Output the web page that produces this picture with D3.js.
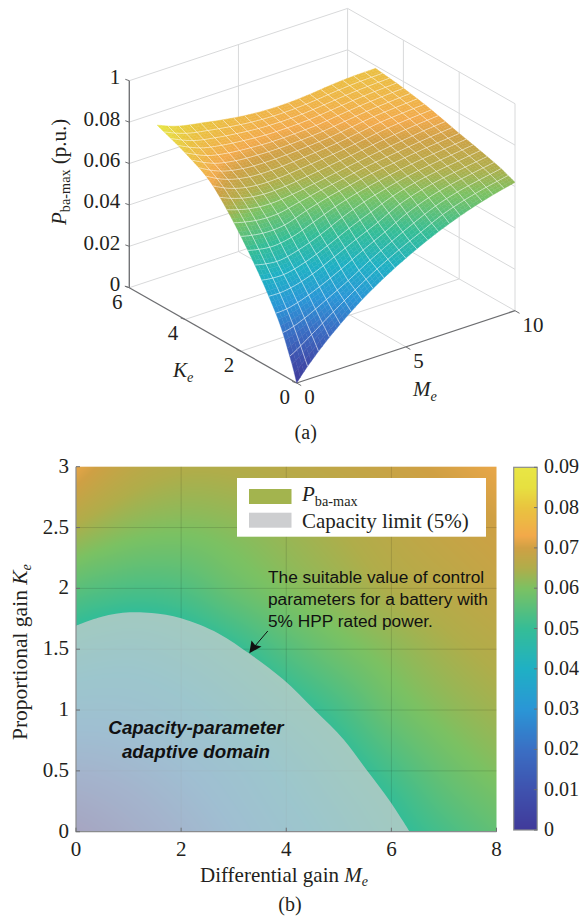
<!DOCTYPE html>
<html><head><meta charset="utf-8">
<script src="https://cdn.jsdelivr.net/npm/d3@7/dist/d3.min.js"></script>
<style>html,body{margin:0;padding:0;background:#fff}svg{display:block}
text{font-family:"Liberation Serif",serif;fill:#231f20}</style></head>
<body><svg id="c" width="581" height="917"></svg>
<script>
// ---- data ----
const meGrid=[0,.25,.5,1,2,3,4,5,6,7,8,9,10];
const keGrid=[0,.125,.25,.5,1,1.5,2,2.5,3,4,5];
const pKe0   =[0,.0033,.0063,.0118,.0215,.0298,.0368,.0428,.0481,.0526,.0564,.0595,.062];
const pKe0125=[.006,.008,.0103,.015,.0235,.0312,.038,.0438,.0491,.0538,.0575,.0604,.0627];
const pKe025 =[.011,.0125,.0143,.018,.0255,.0326,.0392,.0449,.05,.055,.0585,.0612,.0634];
const pKe05  =[.0205,.021,.0218,.024,.0295,.0352,.0415,.0472,.0525,.0572,.0605,.0628,.0648];
const pKe1   =[.0342,.0341,.0341,.0348,.038,.0428,.0478,.0525,.0578,.0612,.0635,.0652,.0668];
const pKe15  =[.0455,.0448,.0443,.0437,.0458,.0497,.0545,.0585,.0615,.064,.0658,.0672,.0686];
const pKe2   =[.0555,.0548,.0543,.0535,.054,.0575,.0605,.0628,.065,.0665,.068,.0692,.0703];
const pKe25  =[.0645,.0636,.0628,.0615,.0605,.0615,.0632,.065,.0668,.0684,.0698,.0712,.0722];
const pKe3   =[.0722,.0708,.0695,.0675,.0655,.0655,.0665,.0677,.069,.0706,.0722,.0732,.074];
const pKe4   =[.0805,.0792,.0779,.0757,.0735,.0725,.072,.0722,.0728,.074,.0752,.0761,.0768];
const pKe5   =[.0862,.0851,.084,.0823,.0802,.0783,.0768,.076,.076,.0767,.0778,.0785,.0787];
const colorValues=[0,.01,.02,.03,.04,.05,.06,.065,.07,.073,.08,.085,.09];
const colorStops=["#403a9a","#3f52ae","#3a6fc4","#2a96d6","#1fb0c4","#35bd96","#7cc162","#b0ad4a","#cfa044","#f2a94a","#e9c43f","#e7e040","#e8e645"];
const limitMe=[0,.49,1.02,1.44,2,2.71,3.31,3.94,4.54,5.1,5.53,5.98,6.35];
const limitKe=[1.693,1.767,1.803,1.797,1.754,1.63,1.46,1.252,1,.754,.507,.247,0];
const zTicks=[0,.02,.04,.06,.08,.1];
const zTickLabels=["0","0.02","0.04","0.06","0.08","1"];
const keTicks3d=[0,2,4,6], meTicks3d=[0,5,10];
const xTicks=[0,2,4,6,8], yTicks=[0,.5,1,1.5,2,2.5,3];
const cbTicks=[0,.01,.02,.03,.04,.05,.06,.07,.08,.09];
const noteLines=["The suitable value of control","parameters for a battery with","5% HPP rated power."];
const domainLines=["Capacity-parameter","adaptive domain"];
const pRows=[pKe0,pKe0125,pKe025,pKe05,pKe1,pKe15,pKe2,pKe25,pKe3,pKe4,pKe5];

// smooth reading between table points
function hermite(xs,ys){
  const n=xs.length, s=xs.map((_,i)=>i==0?(ys[1]-ys[0])/(xs[1]-xs[0]):i==n-1?(ys[n-1]-ys[n-2])/(xs[n-1]-xs[n-2]):
    (()=>{const a=(ys[i]-ys[i-1])/(xs[i]-xs[i-1]),b=(ys[i+1]-ys[i])/(xs[i+1]-xs[i]),h0=xs[i]-xs[i-1],h1=xs[i+1]-xs[i];return (a*h1+b*h0)/(h0+h1);})());
  const bis=d3.bisector(d=>d).right;
  return x=>{let i=Math.min(n-2,Math.max(0,bis(xs,x)-1));const h=xs[i+1]-xs[i],t=(x-xs[i])/h,t2=t*t,t3=t2*t;
    return (2*t3-3*t2+1)*ys[i]+(t3-2*t2+t)*h*s[i]+(-2*t3+3*t2)*ys[i+1]+(t3-t2)*h*s[i+1];};
}
const rowFns=pRows.map(r=>hermite(meGrid,r));
function columnAt(m){return hermite(keGrid,rowFns.map(f=>f(m)));}
const color=d3.scaleLinear().domain(colorValues).range(colorStops).interpolate(d3.interpolateRgb).clamp(true);

const svg=d3.select("#c");
// ---- panel (a) ----
const meDx=d3.scaleLinear([0,10],[0,218.3]), meDy=d3.scaleLinear([0,10],[0,-72.3]);
const keDx=d3.scaleLinear([0,6],[0,-167.4]), keDy=d3.scaleLinear([0,6],[0,-95.3]);
const zDy=d3.scaleLinear([0,.1],[0,-207]);
const ox=296.7, oy=383;
const proj=(m,k,z)=>[ox+meDx(m)+keDx(k), oy+meDy(m)+keDy(k)+zDy(z)];
const line3=d3.line();
const a=svg.append("g");
const grid=[];
zTicks.forEach(z=>{grid.push([[0,6,z],[10,6,z]]);grid.push([[10,6,z],[10,0,z]]);});
[0,5,10].forEach(m=>grid.push([[m,6,0],[m,6,.1]]));
[0,2,4].forEach(k=>grid.push([[10,k,0],[10,k,.1]]));
[2,4].forEach(k=>grid.push([[0,k,0],[10,k,0]]));
grid.push([[5,0,0],[5,6,0]]);
a.append("g").selectAll("path").data(grid).join("path")
 .attr("d",d=>line3(d.map(p=>proj(...p)))).attr("fill","none").attr("stroke","#d8d9da").attr("stroke-width",1);
// axes
const axes=[[[0,6,0],[0,6,.1]],[[0,6,0],[0,0,0]],[[0,0,0],[10,0,0]]];
a.append("g").selectAll("path").data(axes).join("path")
 .attr("d",d=>line3(d.map(p=>proj(...p)))).attr("fill","none").attr("stroke","#6d6e71").attr("stroke-width",1.3);
// ticks
const tks=[];
zTicks.forEach(z=>{const p=proj(0,6,z);tks.push([p,[p[0]-4,p[1]-1.4]]);});
keTicks3d.forEach(k=>{const p=proj(0,k,0);tks.push([p,[p[0]-4.5,p[1]-1.5]]);});
meTicks3d.forEach(m=>{const p=proj(m,0,0);tks.push([p,[p[0]+4.5,p[1]+2.6]]);});
a.append("g").selectAll("path").data(tks).join("path").attr("d",d=>line3(d)).attr("stroke","#6d6e71").attr("stroke-width",1).attr("fill","none");
// surface
const mStep=.5,kStep=.25,sub=3,dm=mStep/sub,dk=kStep/sub,nm=20*sub,nk=20*sub;
const cols=d3.range(nm+1).map(i=>columnAt(i*dm));
const Z=(i,j)=>Math.max(0,cols[i](j*dk));
const cells=[];
for(let j=nk-1;j>=0;j--)for(let i=nm-1;i>=0;i--){
  const c=[[i,j],[i+1,j],[i+1,j+1],[i,j+1]].map(([u,v])=>({u,v,z:Z(u,v)}));
  cells.push({pts:c.map(q=>proj(q.u*dm,q.v*dk,q.z)),v:d3.mean(c,q=>q.z)});
}
a.append("g").selectAll("path").data(cells).join("path")
 .attr("d",d=>line3(d.pts)+"Z").attr("fill",d=>color(d.v)).attr("stroke",d=>color(d.v)).attr("stroke-width",.4);
const mesh=[];
for(let i=sub;i<nm;i+=sub)mesh.push(d3.range(nk+1).map(j=>proj(i*dm,j*dk,Z(i,j))));
for(let j=sub;j<nk;j+=sub)mesh.push(d3.range(nm+1).map(i=>proj(i*dm,j*dk,Z(i,j))));
a.append("g").selectAll("path").data(mesh).join("path").attr("d",d=>line3(d))
 .attr("fill","none").attr("stroke","#fff").attr("stroke-opacity",.6).attr("stroke-width",.9);
// tick labels
const fs=21;
a.append("g").selectAll("text").data(zTicks).join("text")
 .attr("x",d=>proj(0,6,d)[0]-9).attr("y",d=>proj(0,6,d)[1]+3.5).attr("text-anchor","end").attr("font-size",fs).text((d,i)=>zTickLabels[i]);
a.append("g").selectAll("text").data(keTicks3d).join("text")
 .attr("x",d=>proj(0,d,0)[0]-12).attr("y",d=>proj(0,d,0)[1]+21).attr("text-anchor","middle").attr("font-size",fs).text(d=>d);
a.append("g").selectAll("text").data(meTicks3d).join("text")
 .attr("x",d=>proj(d,0,0)[0]+7.5).attr("y",d=>proj(d,0,0)[1]+21).attr("text-anchor","start").attr("font-size",fs).text(d=>d);
function sym(g,x,y,main,sub,fz,anchor,upSub){
  const t=g.append("text").attr("x",x).attr("y",y).attr("font-size",fz).attr("text-anchor",anchor||"start");
  t.append("tspan").attr("font-style","italic").text(main);
  t.append("tspan").attr("font-size",fz*.68).attr("dy",fz*.22).attr("font-style",upSub?"normal":"italic").text(sub);
  return t;
}
sym(a,173,377,"K","e",fs);
sym(a,413,396,"M","e",fs);
const zl=sym(a,0,0,"P","ba-max",fs,"start",true).attr("transform","translate(65.5,225) rotate(-90)");
zl.append("tspan").attr("dy",-fs*.22).text(" (p.u.)");
a.append("text").attr("x",305.7).attr("y",439).attr("text-anchor","middle").attr("font-size",20).text("(a)");

// ---- panel (b) ----
const x=d3.scaleLinear([0,8],[76,496.5]), y=d3.scaleLinear([0,3],[831.7,466.7]);
const b=svg.append("g");
const W=421,H=365,cv=document.createElement("canvas");cv.width=W;cv.height=H;
const ctx=cv.getContext("2d"),img=ctx.createImageData(W,H);
for(let i=0;i<W;i++){const col=columnAt(x.invert(76+i+.5));
  for(let j=0;j<H;j++){const c=d3.rgb(color(Math.max(0,col(y.invert(466.7+j+.5))))),o=(j*W+i)*4;
    img.data[o]=c.r;img.data[o+1]=c.g;img.data[o+2]=c.b;img.data[o+3]=255;}}
ctx.putImageData(img,0,0);
b.append("image").attr("x",76).attr("y",466.7).attr("width",420.5).attr("height",365).attr("preserveAspectRatio","none").attr("href",cv.toDataURL());
// grid
b.append("g").selectAll("line").data(xTicks.slice(1,-1)).join("line").attr("x1",d=>x(d)).attr("x2",d=>x(d)).attr("y1",y(0)).attr("y2",y(3))
 .attr("stroke","#000").attr("stroke-opacity",.12);
b.append("g").selectAll("line").data(yTicks.slice(1,-1)).join("line").attr("y1",d=>y(d)).attr("y2",d=>y(d)).attr("x1",x(0)).attr("x2",x(8))
 .attr("stroke","#000").attr("stroke-opacity",.12);
// capacity overlay
const limit=limitMe.map((m,i)=>[m,limitKe[i]]);
const area=d3.area().x(d=>x(d[0])).y0(y(0)).y1(d=>y(d[1])).curve(d3.curveCatmullRom.alpha(.5));
b.append("path").attr("d",area(limit)).attr("fill","#cdced0").attr("fill-opacity",.72);
// frame axes
b.append("path").attr("d",`M${x(0)},${y(3)}V${y(0)}H${x(8)}`).attr("fill","none").attr("stroke","#8a8c8e").attr("stroke-width",1.2);
b.append("g").selectAll("line").data(xTicks).join("line").attr("x1",d=>x(d)).attr("x2",d=>x(d)).attr("y1",y(0)).attr("y2",y(0)-4).attr("stroke","#6d6e71");
b.append("g").selectAll("line").data(yTicks).join("line").attr("y1",d=>y(d)).attr("y2",d=>y(d)).attr("x1",x(0)).attr("x2",x(0)+4).attr("stroke","#6d6e71");
b.append("g").selectAll("text").data(xTicks).join("text").attr("x",d=>x(d)).attr("y",856).attr("text-anchor","middle").attr("font-size",fs).text(d=>d);
b.append("g").selectAll("text").data(yTicks).join("text").attr("x",69).attr("y",d=>y(d)+6).attr("text-anchor","end").attr("font-size",fs).text(d=>d);
const xl=b.append("text").attr("x",200).attr("y",882).attr("font-size",21);
xl.append("tspan").text("Differential gain ");
xl.append("tspan").attr("font-style","italic").text("M");
xl.append("tspan").attr("font-style","italic").attr("font-size",14).attr("dy",4).text("e");
const yl=b.append("text").attr("transform","translate(27,740) rotate(-90)").attr("font-size",21.5);
yl.append("tspan").text("Proportional gain ");
yl.append("tspan").attr("font-style","italic").text("K");
yl.append("tspan").attr("font-style","italic").attr("font-size",14).attr("dy",4).text("e");
b.append("text").attr("x",290).attr("y",911).attr("text-anchor","middle").attr("font-size",20).text("(b)");
// legend
b.append("rect").attr("x",237).attr("y",478).attr("width",249).attr("height",58.7).attr("fill","#fff");
b.append("rect").attr("x",249).attr("y",489).attr("width",42.5).attr("height",15).attr("fill","#a3b44e");
b.append("rect").attr("x",249).attr("y",512.7).attr("width",42.5).attr("height",15).attr("fill","#cdced0");
sym(b,302,501,"P","ba-max",21,"start",true);
b.append("text").attr("x",302).attr("y",528).attr("font-size",21).text("Capacity limit (5%)");
// annotation
const sans='"Liberation Sans",Arial,sans-serif';
b.append("g").selectAll("text").data(noteLines).join("text").attr("x",268).attr("y",(d,i)=>582.7+i*22).attr("font-size",17.3)
 .style("font-family",sans).style("fill","#111").text(d=>d);
b.append("line").attr("x1",267.8).attr("y1",631).attr("x2",255).attr("y2",646).attr("stroke","#111").attr("stroke-width",1);
b.append("path").attr("d",d3.line()([[249.3,653.3],[251.5,640.5],[255,645],[261.5,646.5]])+"Z").attr("fill","#111");
b.append("g").selectAll("text").data(domainLines).join("text").attr("x",196).attr("y",(d,i)=>734+i*24).attr("text-anchor","middle")
 .attr("font-size",18.8).attr("font-weight","bold").attr("font-style","italic").style("font-family",sans).style("fill","#111").text(d=>d);
// colour bar
const cb=d3.scaleLinear([0,.09],[830,467.3]);
b.append("g").attr("shape-rendering","crispEdges").selectAll("rect").data(d3.range(467,830)).join("rect").attr("x",513.7).attr("width",23.5)
 .attr("y",d=>d).attr("height",1).attr("fill",d=>color(cb.invert(d+.5)));
b.append("rect").attr("x",513.7).attr("y",467.3).attr("width",23.5).attr("height",362.7).attr("fill","none").attr("stroke","#8a8c8e").attr("stroke-width",1.2);
b.append("g").selectAll("line").data(cbTicks).join("line").attr("x1",534).attr("x2",537.2).attr("y1",d=>cb(d)).attr("y2",d=>cb(d)).attr("stroke","#6d6e71");
b.append("g").selectAll("text").data(cbTicks).join("text").attr("x",544).attr("y",d=>cb(d)+6).attr("font-size",20).text(d=>d);
</script></body></html>
